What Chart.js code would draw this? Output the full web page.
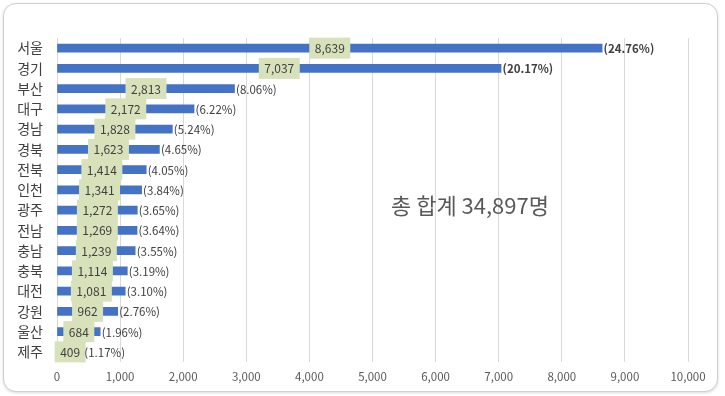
<!DOCTYPE html>
<html><head><meta charset="utf-8">
<script src="https://cdn.jsdelivr.net/npm/chart.js@4.4.0/dist/chart.umd.min.js"></script>
<style>
html,body{margin:0;padding:0;background:#fff;}
#wrap{position:relative;width:725px;height:396px;}
#card{position:absolute;left:3px;top:3px;width:713px;height:387px;border:1px solid #d0d0d0;border-radius:13px;box-shadow:0 1px 3px rgba(0,0,0,0.15);background:#fff;}
canvas{position:absolute;left:0;top:0;}
</style></head>
<body><div id="wrap"><div id="card"></div><canvas id="c" width="725" height="396"></canvas></div>
<script>
const categories = ['서울','경기','부산','대구','경남','경북','전북','인천','광주','전남','충남','충북','대전','강원','울산','제주'];
const values = [8639,7037,2813,2172,1828,1623,1414,1341,1272,1269,1239,1114,1081,962,684,409];
const pctLabels = ['(24.76%)','(20.17%)','(8.06%)','(6.22%)','(5.24%)','(4.65%)','(4.05%)','(3.84%)','(3.65%)','(3.64%)','(3.55%)','(3.19%)','(3.10%)','(2.76%)','(1.96%)','(1.17%)'];
const totalText = '총 합계 34,897명';
const FONT = "'Noto Sans CJK KR','Noto Sans',sans-serif";

const labelPlugin = {
  id:'labels',
  afterDatasetsDraw(chart){
    const ctx = chart.ctx;
    const meta = chart.getDatasetMeta(0);
    ctx.save();
    ctx.font = "12px " + FONT;
    ctx.textBaseline = 'middle';
    meta.data.forEach((bar,i)=>{
      const txt = values[i].toLocaleString('en-US');
      const w = ctx.measureText(txt).width + 11;
      const cx = (bar.x + bar.base)/2;
      ctx.fillStyle = '#d7e2bb';
      ctx.fillRect(cx - w/2, bar.y - 10.5, w, 21);
    });
    meta.data.forEach((bar,i)=>{
      const txt = values[i].toLocaleString('en-US');
      const cx = (bar.x + bar.base)/2;
      ctx.fillStyle = '#404040';
      ctx.textAlign = 'center';
      ctx.fillText(txt, cx, bar.y + 0.5);
    });
    meta.data.forEach((bar,i)=>{
      ctx.fillStyle = '#404040';
      ctx.textAlign = 'left';
      ctx.font = (i < 2 ? "bold " : "") + "11.5px " + FONT;
      ctx.fillText(pctLabels[i], bar.x + 1.5, bar.y + 0.5);
    });
    ctx.font = "22px " + FONT;
    ctx.fillStyle = '#595959';
    ctx.textAlign = 'left';
    ctx.fillText(totalText, 391, 206);
    ctx.restore();
  }
};

new Chart(document.getElementById('c'), {
  type:'bar',
  data:{labels:categories, datasets:[{data:values, backgroundColor:'#4472c4', barThickness:8}]},
  options:{
    indexAxis:'y', responsive:false, animation:false,
    layout:{padding:{top:38,right:37,bottom:12,left:0}},
    plugins:{legend:{display:false}, tooltip:{enabled:false}},
    scales:{
      x:{min:0,max:10000,
        ticks:{stepSize:1000, padding:8, color:'#595959', font:{family:FONT,size:11.5},
          callback:v=>v.toLocaleString('en-US')},
        grid:{color:'#d9d9d9', drawTicks:false},
        border:{display:false},
        afterFit(s){s.height=22;}
      },
      y:{
        ticks:{padding:14, color:'#404040', font:{family:FONT,size:14}},
        grid:{display:false, drawTicks:false},
        border:{display:false},
        afterFit(s){s.width=57;}
      }
    }
  },
  plugins:[labelPlugin]
});
</script></body></html>
